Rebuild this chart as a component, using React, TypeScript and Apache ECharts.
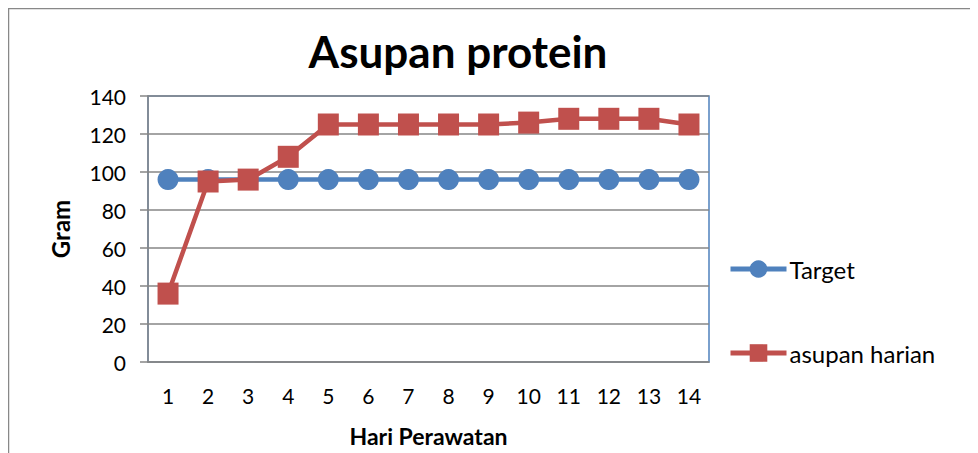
import React, { useEffect, useRef } from "react";
import * as echarts from "echarts";

const days = ["1", "2", "3", "4", "5", "6", "7", "8", "9", "10", "11", "12", "13", "14"];
const targetValues = [96, 96, 96, 96, 96, 96, 96, 96, 96, 96, 96, 96, 96, 96];
const dailyIntake = [36, 95, 96, 108, 125, 125, 125, 125, 125, 126, 128, 128, 128, 125];
const seriesNames = ["Target", "asupan harian"];
const FONT = "Lato, 'Open Sans', sans-serif";

export default function App() {
  const ref = useRef<HTMLDivElement>(null);
  useEffect(() => {
    if (!ref.current) return;
    const chart = echarts.init(ref.current, undefined, { renderer: "svg" });
    chart.setOption({
      animation: false,
      backgroundColor: "#ffffff",
      textStyle: { fontFamily: FONT, color: "#000" },
      title: {
        text: "Asupan protein",
        left: 445,
        top: 16,
        textAlign: "center",
        textStyle: { fontFamily: FONT, fontSize: 44, fontWeight: "bold", color: "#000" },
      },
      graphic: [
        {
          type: "rect",
          shape: { x: 0.5, y: 0.5, width: 1200, height: 800 },
          style: { fill: "none", stroke: "#888888", lineWidth: 1.5 },
          silent: true,
          z: -1,
        },
      ],
      legend: {
        orient: "vertical",
        left: 715,
        top: 244,
        itemWidth: 56,
        itemHeight: 22,
        itemGap: 60,
        lineStyle: { width: 5 },
        textStyle: { fontFamily: FONT, fontSize: 24, color: "#000", padding: [0, 0, 0, -2] },
        data: seriesNames,
      },
      grid: {
        left: 140,
        right: 269,
        top: 88,
        bottom: 91,
        show: true,
        borderColor: "#4F81BD",
        borderWidth: 1.5,
        containLabel: false,
      },
      xAxis: {
        type: "category",
        data: days,
        boundaryGap: true,
        name: "Hari Perawatan",
        nameLocation: "middle",
        nameGap: 62,
        nameTextStyle: { fontFamily: FONT, fontSize: 23, fontWeight: "bold", color: "#000" },
        axisLine: { lineStyle: { color: "#868686", width: 1.5 } },
        axisTick: { show: false },
        axisLabel: { fontFamily: FONT, fontSize: 21, color: "#000", margin: 23 },
      },
      yAxis: {
        type: "value",
        min: 0,
        max: 140,
        interval: 20,
        name: "Gram",
        nameLocation: "middle",
        nameGap: 76,
        nameRotate: 90,
        nameTextStyle: { fontFamily: FONT, fontSize: 24, fontWeight: "bold", color: "#000" },
        axisLine: { show: true, lineStyle: { color: "#868686", width: 1.5 } },
        axisTick: { show: true, inside: false, length: 8, lineStyle: { color: "#868686", width: 1.5 } },
        axisLabel: { fontFamily: FONT, fontSize: 21, color: "#000", margin: 22 },
        splitLine: { show: true, lineStyle: { color: "#868686", width: 1.5 } },
      },
      series: [
        {
          name: seriesNames[0],
          type: "line",
          data: targetValues,
          symbol: "circle",
          symbolSize: 21,
          itemStyle: { color: "#4F81BD" },
          lineStyle: { color: "#4F81BD", width: 4.5 },
          z: 2,
        },
        {
          name: seriesNames[1],
          type: "line",
          data: dailyIntake,
          symbol: "rect",
          symbolSize: [21, 22],
          itemStyle: { color: "#C0504D" },
          lineStyle: { color: "#C0504D", width: 4.5 },
          z: 3,
        },
      ],
    });
    return () => chart.dispose();
  }, []);
  return <div ref={ref} style={{ width: 970, height: 445 }} />;
}
